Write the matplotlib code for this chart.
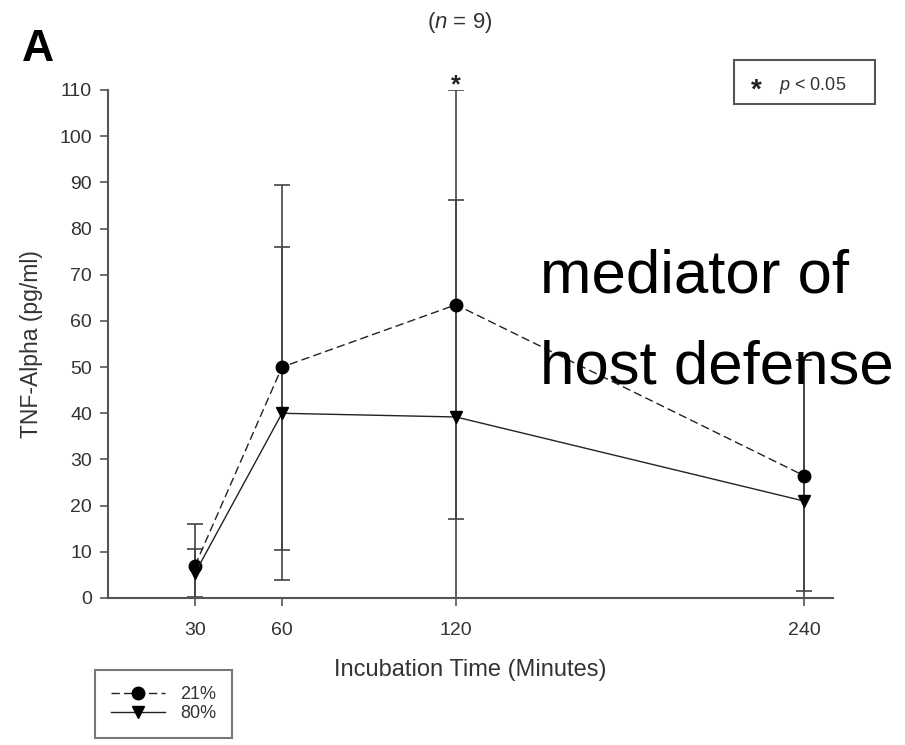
#TNF-alpha vs incubation time, two oxygen levels, with SD error bars
import matplotlib
matplotlib.use('Agg')
import matplotlib.pyplot as plt
from matplotlib.patches import Rectangle

plt.rcParams['font.family']=['Liberation Sans','DejaVu Sans']
plt.rcParams['mathtext.fontset']='custom'
plt.rcParams['mathtext.rm']='Liberation Sans'
plt.rcParams['mathtext.it']='Liberation Sans:italic'

#Data
minutes=[30,60,120,240]
tnf_21=[7,50,63.5,26.5]
sd_21=[9,39.5,46.5,25]
tnf_80=[5.4,40,39.2,21]
sd_80=[5.2,36,47,30.5]
series_labels=['21%','80%']
yticks=list(range(0,111,10))

ink='#222222'
fig=plt.figure(figsize=(9.05,7.45),dpi=100)
ax=fig.add_axes([108/905,147/745,725/905,508/745])

#Error bars
ax.errorbar(minutes,tnf_21,yerr=sd_21,fmt='none',ecolor='#444444',elinewidth=1.2,capsize=6,capthick=1.2,zorder=2)
ax.errorbar(minutes,tnf_80,yerr=sd_80,fmt='none',ecolor='#444444',elinewidth=1.2,capsize=6,capthick=1.2,zorder=2)

#Lines
ax.plot(minutes,tnf_21,linestyle=(0,(6,3)),color=ink,linewidth=1,marker='o',markersize=9,markerfacecolor='black',markeredgecolor='black',label=series_labels[0],zorder=3,clip_on=False)
ax.plot(minutes,tnf_80,linestyle='-',color=ink,linewidth=1,marker='v',markersize=9,markerfacecolor='black',markeredgecolor='black',label=series_labels[1],zorder=3,clip_on=False)

#Significance mark at 120 min
ax.text(120,109.6,'*',ha='center',va='baseline',fontsize=18,fontweight='bold',color=ink)

ax.set_xlim(0,250)
ax.set_ylim(0,110)
ax.set_xticks(minutes)
ax.set_yticks(yticks)
ax.tick_params(direction='out',length=6,width=1.2,colors='#555555',labelcolor='#333333',labelsize=14)
ax.tick_params(axis='x',pad=11)
ax.tick_params(axis='y',pad=5.5)
for s in ['top','right']:
	ax.spines[s].set_visible(False)
for s in ['left','bottom']:
	ax.spines[s].set_color('#555555')
	ax.spines[s].set_linewidth(1.5)

ax.set_xlabel('Incubation Time (Minutes)',fontsize=17,color='#333333',labelpad=15)
ax.set_ylabel('TNF-Alpha (pg/ml)',fontsize=16.5,color='#333333',labelpad=12)

#Title and panel letter
fig.text(460/905,1-28/745,'($n$ = 9)',ha='center',va='baseline',fontsize=16,color='#333333')
fig.text(22/905,1-61/745,'A',ha='left',va='baseline',fontsize=32,fontweight='bold',color='black')

#p-value box
fig.add_artist(Rectangle((734/905,1-104/745),141/905,44/745,transform=fig.transFigure,facecolor='white',edgecolor='#555555',linewidth=1.5))
fig.text(756/905,1-98/745,'*',ha='center',va='baseline',fontsize=20,fontweight='bold',color=ink)
fig.text(779/905,1-90/745,'$p$ < 0.05',ha='left',va='baseline',fontsize=13,color='#333333')

#Legend
leg=ax.legend(loc='upper left',bbox_to_anchor=(95/905,1-670/745),bbox_transform=fig.transFigure,borderaxespad=0,frameon=True,fancybox=False,edgecolor='#555555',fontsize=13,handlelength=3,borderpad=0.9,labelspacing=0.1,numpoints=1)
leg.get_frame().set_linewidth(1.5)
for t in leg.get_texts():
	t.set_color('#333333')

#Overlay text
big=['mediator of','host defense']
fig.text(540/905,1-292/745,big[0],ha='left',va='baseline',fontsize=44.5,color='black')
fig.text(540/905,1-383/745,big[1],ha='left',va='baseline',fontsize=44.5,color='black')

plt.savefig('out.png',dpi=100)
